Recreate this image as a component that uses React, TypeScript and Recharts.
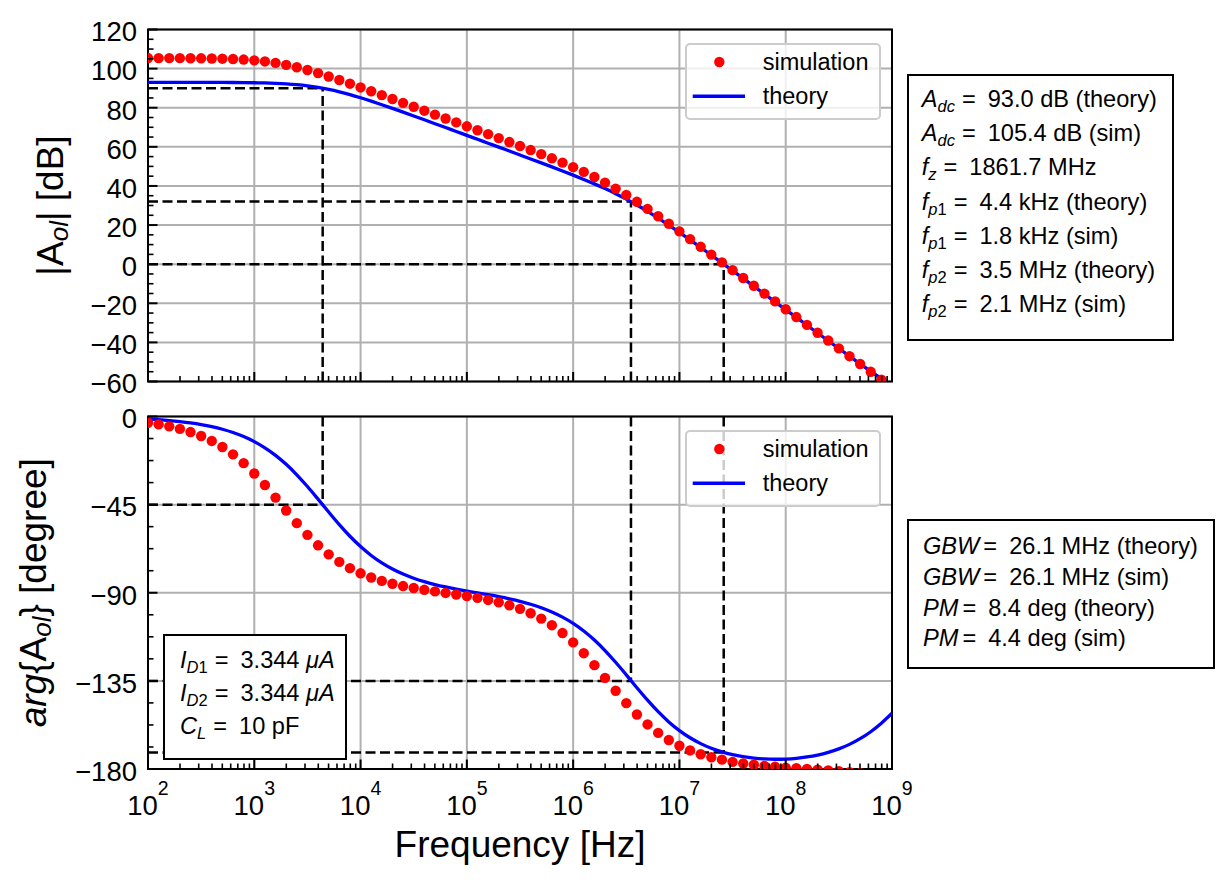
import {
  ComposedChart,
  Line,
  XAxis,
  YAxis,
  CartesianGrid,
  ReferenceLine,
  ReferenceArea,
  Legend,
} from "recharts";

const FONT = "'Liberation Sans', Arial, Helvetica, sans-serif";

// log10 of the frequency of each simulated point (10 points per decade)
const logFreq = [
  2.0, 2.1, 2.2, 2.3, 2.4, 2.5, 2.6, 2.7, 2.8, 2.9,
  3.0, 3.1, 3.2, 3.3, 3.4, 3.5, 3.6, 3.7, 3.8, 3.9,
  4.0, 4.1, 4.2, 4.3, 4.4, 4.5, 4.6, 4.7, 4.8, 4.9,
  5.0, 5.1, 5.2, 5.3, 5.4, 5.5, 5.6, 5.7, 5.8, 5.9,
  6.0, 6.1, 6.2, 6.3, 6.4, 6.5, 6.6, 6.7, 6.8, 6.9,
  7.0, 7.1, 7.2, 7.3, 7.4, 7.5, 7.6, 7.7, 7.8, 7.9,
  8.0, 8.1, 8.2, 8.3, 8.4, 8.5, 8.6, 8.7, 8.8, 8.9, 9.0,
];

const simGain = [
  105.39, 105.38, 105.37, 105.35, 105.32, 105.27, 105.19, 105.08, 104.9, 104.63,
  104.23, 103.67, 102.91, 101.92, 100.71, 99.29, 97.7, 95.98, 94.17, 92.29,
  90.37, 88.42, 86.45, 84.47, 82.48, 80.49, 78.49, 76.49, 74.5, 72.5,
  70.49, 68.49, 66.48, 64.47, 62.44, 60.41, 58.35, 56.26, 54.13, 51.92,
  49.62, 47.17, 44.55, 41.71, 38.65, 35.36, 31.88, 28.25, 24.49, 20.66,
  16.76, 12.83, 8.87, 4.9, 0.92, -3.07, -7.06, -11.06, -15.06, -19.05,
  -23.05, -27.05, -31.05, -35.05, -39.05, -43.05, -47.05, -51.05, -55.05, -59.05, -63.05,
];

const theoryGain = [
  93.0, 93.0, 92.99, 92.99, 92.99, 92.98, 92.96, 92.94, 92.91, 92.86,
  92.78, 92.66, 92.47, 92.19, 91.77, 91.19, 90.4, 89.39, 88.15, 86.71,
  85.1, 83.37, 81.55, 79.66, 77.74, 75.79, 73.82, 71.84, 69.85, 67.85,
  65.86, 63.86, 61.86, 59.85, 57.85, 55.83, 53.81, 51.78, 49.73, 47.65,
  45.53, 43.34, 41.06, 38.65, 36.06, 33.28, 30.26, 27.03, 23.59, 19.98,
  16.25, 12.43, 8.54, 4.62, 0.67, -3.3, -7.28, -11.27, -15.26, -19.26,
  -23.24, -27.23, -31.22, -35.2, -39.17, -43.13, -47.06, -50.95, -54.78, -58.52, -62.15,
];

const simPhase = [
  -3.18, -4.0, -5.03, -6.33, -7.95, -9.97, -12.48, -15.57, -19.33, -23.83,
  -29.08, -35.0, -41.4, -47.99, -54.45, -60.44, -65.78, -70.38, -74.25, -77.45,
  -80.07, -82.2, -83.95, -85.39, -86.59, -87.6, -88.5, -89.31, -90.09, -90.87,
  -91.7, -92.61, -93.67, -94.91, -96.41, -98.23, -100.47, -103.21, -106.56, -110.59,
  -115.36, -120.86, -126.97, -133.48, -140.06, -146.38, -152.16, -157.25, -161.57, -165.18,
  -168.13, -170.52, -172.45, -173.99, -175.22, -176.35, -177.17, -177.84, -178.39, -178.87,
  -179.28, -179.64, -180.0, -180.35, -180.72, -181.13, -181.6, -182.15, -182.82, -183.64, -184.64,
];

const theoryPhase = [
  -1.3, -1.64, -2.06, -2.6, -3.27, -4.11, -5.17, -6.5, -8.16, -10.24,
  -12.82, -15.99, -19.84, -24.42, -29.76, -35.76, -42.21, -48.8, -55.21, -61.15,
  -66.41, -70.95, -74.75, -77.89, -80.47, -82.6, -84.34, -85.8, -87.04, -88.13,
  -89.12, -90.06, -91.0, -92.0, -93.11, -94.36, -95.86, -97.65, -99.82, -102.47,
  -105.67, -109.54, -114.15, -119.5, -125.49, -131.92, -138.5, -144.87, -150.75, -155.95,
  -160.37, -164.05, -167.04, -169.42, -171.28, -172.7, -173.74, -174.46, -174.87, -175.03,
  -174.91, -174.53, -173.86, -172.88, -171.52, -169.73, -167.43, -164.53, -160.96, -156.64, -151.56,
];

// pole / crossover markers (dashed guide lines)
const markerFreqs = [4.4e3, 3.5e6, 2.61e7];
const markerGains = [90, 32, 0];
const markerPhases = [-45, -135, -171.6];

// axis ticks
const decades = [2, 3, 4, 5, 6, 7, 8, 9];
const minorMult = [2, 3, 4, 5, 6, 7, 8, 9];
const majorFreqs = decades.map((d) => 10 ** d);
const freqTicks = decades.flatMap((d) =>
  d < 9 ? [10 ** d, ...minorMult.map((m) => m * 10 ** d)] : [10 ** d]
);
const gainMajors = [-60, -40, -20, 0, 20, 40, 60, 80, 100, 120];
const gainTicks = Array.from({ length: 37 }, (_, i) => -60 + i * 5);
const phaseMajors = [-180, -135, -90, -45, 0];
const phaseTicks = Array.from({ length: 17 }, (_, i) => -180 + i * 11.25);

const gainNotes = [
  { sym: "A", sub: "dc", text: "93.0 dB (theory)" },
  { sym: "A", sub: "dc", text: "105.4 dB (sim)" },
  { sym: "f", sub: "z", text: "1861.7 MHz" },
  { sym: "f", sub: "p1", text: "4.4 kHz (theory)" },
  { sym: "f", sub: "p1", text: "1.8 kHz (sim)" },
  { sym: "f", sub: "p2", text: "3.5 MHz (theory)" },
  { sym: "f", sub: "p2", text: "2.1 MHz (sim)" },
];
const phaseNotes = [
  { sym: "GBW", sub: "", text: "26.1 MHz (theory)" },
  { sym: "GBW", sub: "", text: "26.1 MHz (sim)" },
  { sym: "PM", sub: "", text: "8.4 deg (theory)" },
  { sym: "PM", sub: "", text: "4.4 deg (sim)" },
];
const biasNotes = [
  { sym: "I", sub: "D1", text: "3.344 ", unit: "\u03bcA" },
  { sym: "I", sub: "D2", text: "3.344 ", unit: "\u03bcA" },
  { sym: "C", sub: "L", text: "10 pF" },
];

const magData = logFreq.map((e, i) => ({
  f: 10 ** e,
  sim: simGain[i],
  theory: theoryGain[i],
}));
const phaseData = logFreq.map((e, i) => ({
  f: 10 ** e,
  sim: simPhase[i],
  theory: theoryPhase[i],
}));

const FreqTick = (props: any) => {
  const { x, y, payload, showLabel } = props;
  const lg = Math.log10(Number(payload.value));
  const exp = Math.round(lg);
  const major = Math.abs(lg - exp) < 1e-6;
  return (
    <g>
      <line
        x1={x}
        x2={x}
        y1={y}
        y2={y - (major ? 9.5 : 5.5)}
        stroke="#000"
        strokeWidth={major ? 2 : 1.6}
      />
      {major && showLabel ? (
        <text
          x={x}
          y={y + 46}
          textAnchor="middle"
          fontFamily={FONT}
          fontSize={27.5}
          fill="#000"
        >
          10
          <tspan dy={-20.5} fontSize={19.5}>
            {exp}
          </tspan>
        </text>
      ) : null}
    </g>
  );
};

const ValueTick = (props: any) => {
  const { x, y, payload, majors } = props;
  const v = Number(payload.value);
  const major = majors.includes(v);
  const label = v < 0 ? `\u2212${Math.abs(v)}` : `${v}`;
  return (
    <g>
      <line
        x1={x}
        x2={x + (major ? 9.5 : 5.5)}
        y1={y}
        y2={y}
        stroke="#000"
        strokeWidth={major ? 2 : 1.6}
      />
      {major ? (
        <text
          x={x - 11}
          y={y + 11.8}
          textAnchor="end"
          fontFamily={FONT}
          fontSize={27.5}
          fill="#000"
        >
          {label}
        </text>
      ) : null}
    </g>
  );
};

const GainLabel = (props: any) => {
  const { viewBox } = props;
  const cy = viewBox.y + viewBox.height / 2;
  return (
    <text
      transform={`translate(63, ${cy}) rotate(-90)`}
      textAnchor="middle"
      fontFamily={FONT}
      fontSize={37}
      fill="#000"
    >
      |A
      <tspan fontStyle="italic" fontSize={26} dy={5}>
        ol
      </tspan>
      <tspan dy={-5}>| [dB]</tspan>
    </text>
  );
};

const PhaseLabel = (props: any) => {
  const { viewBox } = props;
  const cy = viewBox.y + viewBox.height / 2;
  return (
    <text
      transform={`translate(45.5, ${cy}) rotate(-90)`}
      textAnchor="middle"
      fontFamily={FONT}
      fontSize={37}
      fill="#000"
    >
      <tspan fontStyle="italic">arg</tspan>
      <tspan>{"{A"}</tspan>
      <tspan fontStyle="italic" fontSize={26} dy={5}>
        ol
      </tspan>
      <tspan dy={-5}>{"} [degree]"}</tspan>
    </text>
  );
};

const FreqLabel = (props: any) => {
  const { viewBox } = props;
  return (
    <text
      x={viewBox.x + viewBox.width / 2}
      y={viewBox.y + 88}
      textAnchor="middle"
      fontFamily={FONT}
      fontSize={37}
      fill="#000"
    >
      Frequency [Hz]
    </text>
  );
};

const LegendBox = () => (
  <div
    style={{
      position: "relative",
      width: 196,
      height: 77,
      boxSizing: "border-box",
      border: "2px solid #cccccc",
      borderRadius: 5,
      background: "rgba(255,255,255,0.8)",
    }}
  >
    <svg
      width={196}
      height={77}
      style={{ position: "absolute", left: -2, top: -2 }}
    >
      <circle cx={34.3} cy={19} r={5.2} fill="#ff0000" />
      <line x1={7.7} x2={60} y1={53.3} y2={53.3} stroke="#0000ff" strokeWidth={3.5} />
      <text x={77.7} y={27.3} fontFamily={FONT} fontSize={23.5} fill="#000">
        simulation
      </text>
      <text x={77.7} y={61.3} fontFamily={FONT} fontSize={23.5} fill="#000">
        theory
      </text>
    </svg>
  </div>
);

const NoteLine = (props: any) => {
  const { x, y, sym, sub, text, unit } = props;
  return (
    <text x={x} y={y} fontFamily={FONT} fontSize={23.6} fill="#000">
      <tspan fontStyle="italic">{sym}</tspan>
      {sub
        ? sub.split("").map((c: string, k: number) => (
            <tspan
              key={k}
              fontStyle={/[0-9]/.test(c) ? "normal" : "italic"}
              fontSize={16.5}
              dy={k === 0 ? 5 : 0}
            >
              {c}
            </tspan>
          ))
        : null}
      <tspan dy={sub ? -5 : 0} dx={sub ? 7 : 4}>
        =
      </tspan>
      <tspan dx={12}>{text}</tspan>
      {unit ? <tspan fontStyle="italic">{unit}</tspan> : null}
    </text>
  );
};

const Notes = () => (
  <svg
    width={1219}
    height={882}
    style={{ position: "absolute", left: 0, top: 0, pointerEvents: "none" }}
  >
    <rect x={908} y={75} width={265} height={265} fill="#fff" stroke="#000" strokeWidth={2} />
    {gainNotes.map((n, i) => (
      <NoteLine key={i} x={921.7} y={107.2 + i * 34.1} {...n} />
    ))}
    <rect x={908} y={520} width={306} height={148} fill="#fff" stroke="#000" strokeWidth={2} />
    {phaseNotes.map((n, i) => (
      <NoteLine key={i} x={923} y={554 + i * 30.8} {...n} />
    ))}
    <rect x={164} y={635} width={182} height={124} fill="#fff" stroke="#000" strokeWidth={2} />
    {biasNotes.map((n, i) => (
      <NoteLine key={i} x={180} y={667.7 + i * 33.3} {...n} />
    ))}
  </svg>
);

const App = () => {
  return (
    <div
      style={{
        position: "absolute",
        left: 0,
        top: 0,
        width: 1219,
        height: 882,
        background: "#fff",
        fontFamily: FONT,
      }}
    >
      {/* MAGNITUDE */}
      <div style={{ position: "absolute", left: 0, top: 0 }}>
        <ComposedChart
          width={940}
          height={400}
          data={magData}
          margin={{ top: 29.5, right: 48, bottom: 0, left: 0 }}
        >
          <CartesianGrid
            stroke="#b0b0b0"
            strokeWidth={2}
            verticalValues={majorFreqs}
            horizontalValues={gainMajors}
          />
          <XAxis
            dataKey="f"
            type="number"
            scale="log"
            domain={[1e2, 1e9]}
            allowDataOverflow
            ticks={freqTicks}
            interval={0}
            height={18.5}
            axisLine={false}
            tickLine={false}
            tickSize={0}
            tickMargin={0}
            tick={(p: any) => <FreqTick {...p} showLabel={false} />}
          />
          <YAxis
            type="number"
            domain={[-60, 120]}
            allowDataOverflow
            ticks={gainTicks}
            interval={0}
            width={148}
            axisLine={false}
            tickLine={false}
            tickSize={0}
            tickMargin={0}
            tick={(p: any) => <ValueTick {...p} majors={gainMajors} />}
            label={<GainLabel />}
          />
          {markerFreqs.map((f, i) => (
            <ReferenceLine
              key={`h${i}`}
              segment={[
                { x: 1e2, y: markerGains[i] },
                { x: f, y: markerGains[i] },
              ]}
              stroke="#000"
              strokeWidth={2.5}
              strokeDasharray="10 4.5"
            />
          ))}
          {markerFreqs.map((f, i) => (
            <ReferenceLine
              key={`v${i}`}
              segment={[
                { x: f, y: -60 },
                { x: f, y: markerGains[i] },
              ]}
              stroke="#000"
              strokeWidth={2.5}
              strokeDasharray="10 4.5"
            />
          ))}
          <Line
            dataKey="sim"
            name="simulation"
            stroke="none"
            dot={{ r: 5.2, fill: "#ff0000", stroke: "none" }}
            activeDot={false}
            legendType="circle"
            isAnimationActive={false}
          />
          <Line
            dataKey="theory"
            name="theory"
            type="monotone"
            stroke="#0000ff"
            strokeWidth={3.3}
            dot={false}
            activeDot={false}
            isAnimationActive={false}
          />
          <ReferenceArea
            x1={1e2}
            x2={1e9}
            y1={-60}
            y2={120}
            fill="none"
            stroke="#000"
            strokeWidth={2}
            ifOverflow="visible"
          />
          <Legend
            layout="vertical"
            align="center"
            verticalAlign="middle"
            content={() => <LegendBox />}
            wrapperStyle={{ left: 685, top: 42.7, width: 196, height: 77 }}
          />
        </ComposedChart>
      </div>

      {/* PHASE */}
      <div style={{ position: "absolute", left: 0, top: 400 }}>
        <ComposedChart
          width={940}
          height={482}
          data={phaseData}
          margin={{ top: 16.5, right: 48, bottom: 0, left: 0 }}
        >
          <CartesianGrid
            stroke="#b0b0b0"
            strokeWidth={2}
            verticalValues={majorFreqs}
            horizontalValues={phaseMajors}
          />
          <XAxis
            dataKey="f"
            type="number"
            scale="log"
            domain={[1e2, 1e9]}
            allowDataOverflow
            ticks={freqTicks}
            interval={0}
            height={113}
            axisLine={false}
            tickLine={false}
            tickSize={0}
            tickMargin={0}
            tick={(p: any) => <FreqTick {...p} showLabel />}
            label={<FreqLabel />}
          />
          <YAxis
            type="number"
            domain={[-180, 0]}
            allowDataOverflow
            ticks={phaseTicks}
            interval={0}
            width={148}
            axisLine={false}
            tickLine={false}
            tickSize={0}
            tickMargin={0}
            tick={(p: any) => <ValueTick {...p} majors={phaseMajors} />}
            label={<PhaseLabel />}
          />
          {markerFreqs.map((f, i) => (
            <ReferenceLine
              key={`h${i}`}
              segment={[
                { x: 1e2, y: markerPhases[i] },
                { x: f, y: markerPhases[i] },
              ]}
              stroke="#000"
              strokeWidth={2.5}
              strokeDasharray="10 4.5"
            />
          ))}
          {markerFreqs.map((f, i) => (
            <ReferenceLine
              key={`v${i}`}
              segment={[
                { x: f, y: 0 },
                { x: f, y: markerPhases[i] },
              ]}
              stroke="#000"
              strokeWidth={2.5}
              strokeDasharray="10 4.5"
            />
          ))}
          <Line
            dataKey="sim"
            name="simulation"
            stroke="none"
            dot={{ r: 5.2, fill: "#ff0000", stroke: "none" }}
            activeDot={false}
            legendType="circle"
            isAnimationActive={false}
          />
          <Line
            dataKey="theory"
            name="theory"
            type="monotone"
            stroke="#0000ff"
            strokeWidth={3.3}
            dot={false}
            activeDot={false}
            isAnimationActive={false}
          />
          <ReferenceArea
            x1={1e2}
            x2={1e9}
            y1={-180}
            y2={0}
            fill="none"
            stroke="#000"
            strokeWidth={2}
            ifOverflow="visible"
          />
          <Legend
            layout="vertical"
            align="center"
            verticalAlign="middle"
            content={() => <LegendBox />}
            wrapperStyle={{ left: 685, top: 29.7, width: 196, height: 77 }}
          />
        </ComposedChart>
      </div>

      {/* ANNOTATIONS */}
      <Notes />
    </div>
  );
};

export default App;
